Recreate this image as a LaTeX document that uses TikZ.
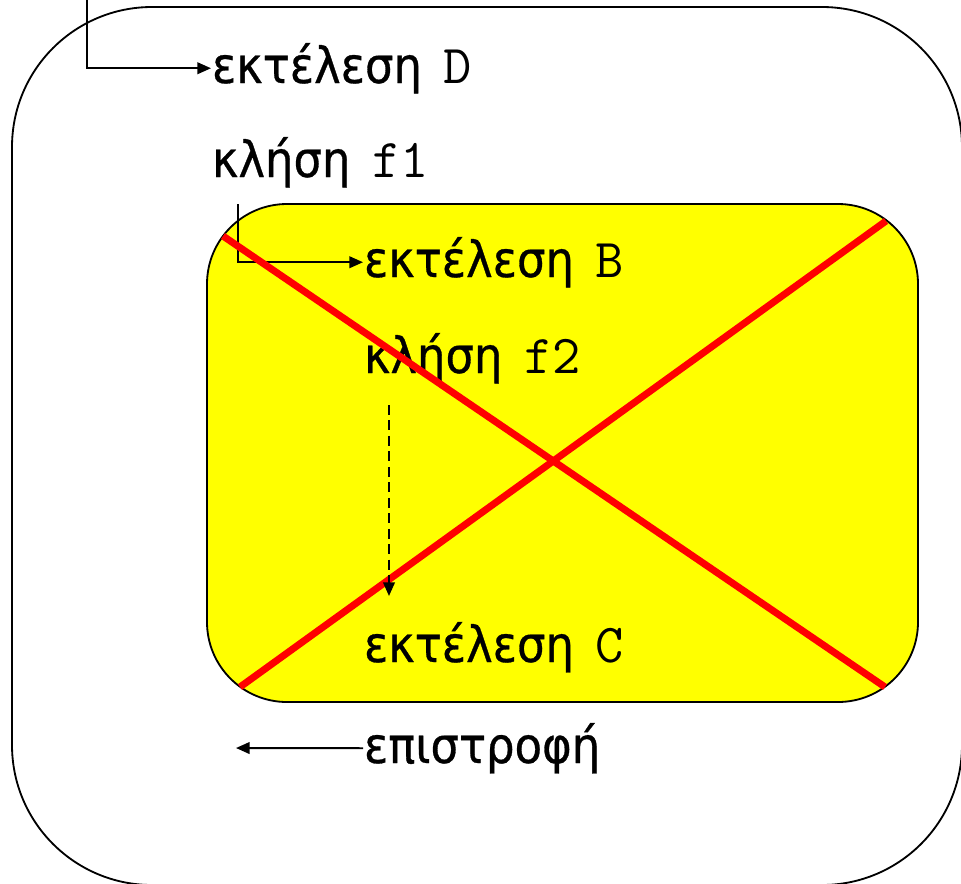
\documentclass[tikz,border=0pt]{standalone}
\usepackage{fontspec}
\newfontfamily\tahomalike{DejaVu Sans}[FakeStretch=0.9, FakeBold=0.6]
\usetikzlibrary{arrows.meta}
\definecolor{cyellow}{HTML}{FFFF00}
\definecolor{cred}{HTML}{FF0000}
\newcommand{\code}[1]{\hspace{0.15em}{\fontsize{39}{42}\selectfont\ttfamily #1}}
\tikzset{
  every picture/.style={line width=1.4pt},
  lbl/.style={anchor=base west, inner sep=0pt, font=\fontsize{35.5}{42}\selectfont\tahomalike},
  arrow/.style={-{Triangle[length=3.4mm, width=2.9mm]}, line width=1.4pt},
  frame/.style={draw, line width=1.3pt, rounded corners=#1},
  cross/.style={draw=cred, line width=5pt},
}

\begin{document}
\begin{tikzpicture}[x=0.025cm, y=-0.025cm]
  \useasboundingbox (0,0) rectangle (961,883);
  % outer and inner blocks
  \draw[frame=3.5cm] (12,7) rectangle (962,885);
  \draw[frame=2cm, fill=cyellow] (207,204) rectangle (918,702);
  % texts
  \node[lbl] (exD) at (211,83) {εκτέλεση \code{D}};
  \node[lbl] (k1) at (211,177) {κλήση \code{f1}};
  \node[lbl] (exB) at (363,277) {εκτέλεση \code{B}};
  \node[lbl] (k2) at (363,373) {κλήση \code{f2}};
  \node[lbl] (exC) at (363,662) {εκτέλεση \code{C}};
  \node[lbl] (ret) at (363,763) {επιστροφή};
  % free ends
  \coordinate (inD) at (87,0);
  \coordinate (inB) at (238,204);
  \coordinate (d1) at (389,405);
  \coordinate (d2) at (389,596);
  \coordinate (out) at (236,748);
  \draw[arrow] (inD) |- (exD.west);
  \draw[arrow] (inB) |- (exB.west);
  \draw[arrow] (ret.west) -- (out);
  % crossed out
  \draw[cross] (223,236) -- (885,687);
  \draw[cross] (240,687) -- (886,221);
  \draw[arrow, dashed, dash pattern=on 7pt off 4pt] (d1) -- (d2);
\end{tikzpicture}
\end{document}
